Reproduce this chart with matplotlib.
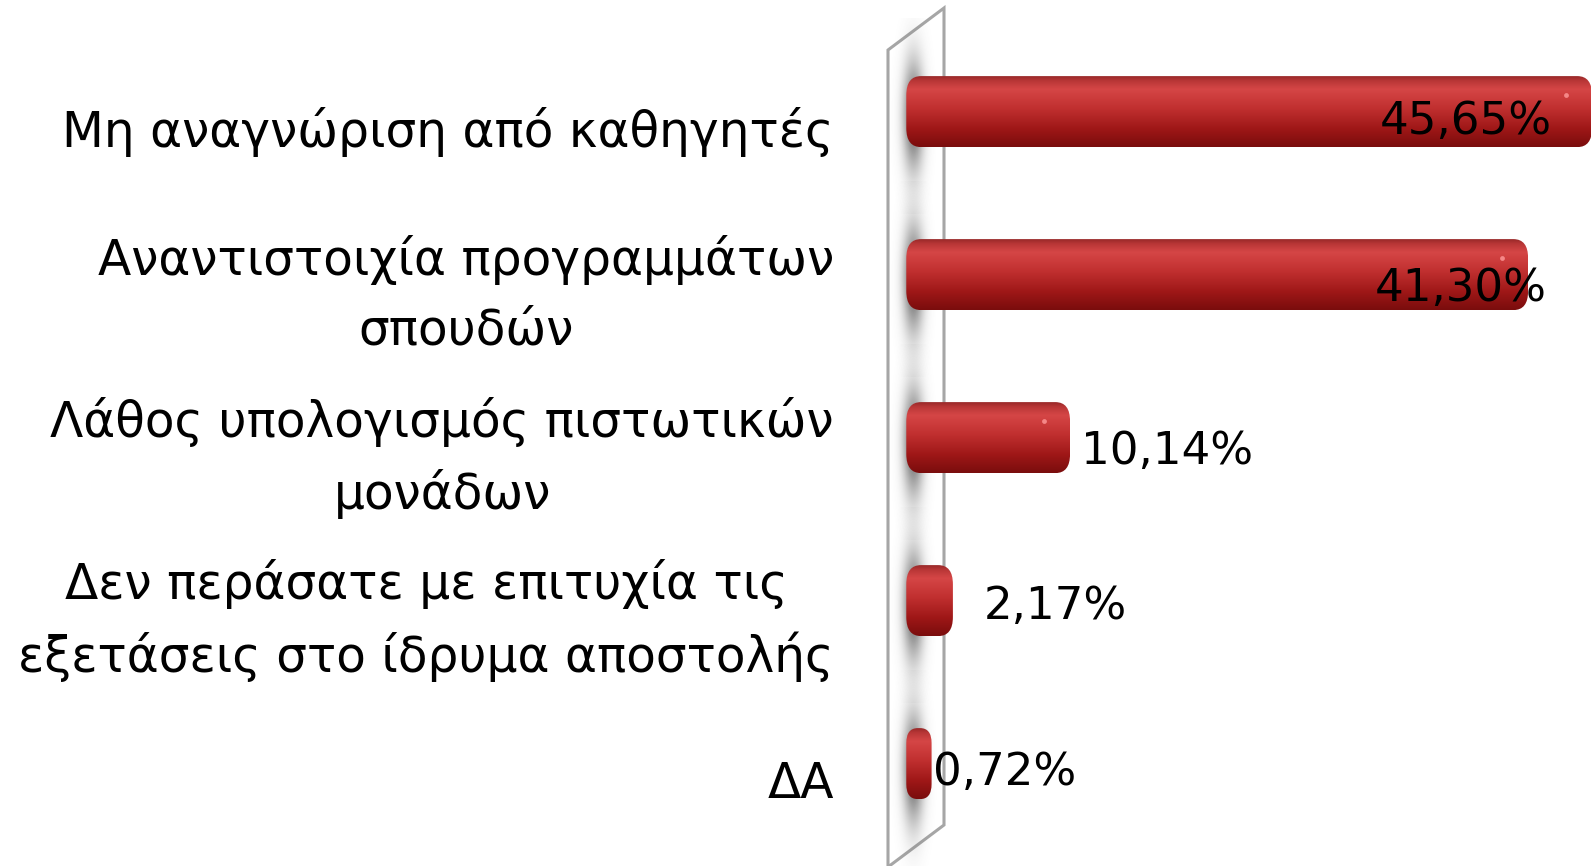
import numpy as np
import matplotlib.pyplot as plt
from matplotlib.patches import FancyBboxPatch, Polygon
from matplotlib.colors import LinearSegmentedColormap

# data
categories = ['Μη αναγνώριση από καθηγητές',
              'Αναντιστοιχία προγραμμάτων\nσπουδών',
              'Λάθος υπολογισμός πιστωτικών\nμονάδων',
              'Δεν περάσατε με επιτυχία τις\nεξετάσεις στο ίδρυμα αποστολής',
              'ΔΑ']
values = [45.65, 41.30, 10.14, 2.17, 0.72]
value_labels = ['45,65%', '41,30%', '10,14%', '2,17%', '0,72%']

# label placement (pixels, relative to bar end)
label_ha = ['right', 'right', 'left', 'left', 'left']
label_dx = [-40, 19, 11, 31, 1]
label_dy = [-10, -14, -14, -6, -9]

W, H = 1591, 866
px_per_x = 14.7      # pixels per percent
px_per_y = 163.0     # pixels per category
x0_px = 921          # pixel of x = 0
y0_px = 111.6        # pixel of first category centre
ax_left_px = 880

fig = plt.figure(figsize=(W / 100, H / 100), dpi=100)
ax = fig.add_axes([ax_left_px / W, 0, 1 - ax_left_px / W, 1])
xlim = ((ax_left_px - x0_px) / px_per_x, (W - x0_px) / px_per_x)
ylim = ((H - y0_px) / px_per_y, -y0_px / px_per_y)
ax.axis('off')

bar_h = 71 / px_per_y
cap = 1.0  # rounded cap length in x units
aspect = px_per_x / px_per_y

cmap = LinearSegmentedColormap.from_list('bar', [
    (0.0, '#9a2a2a'), (0.06, '#b83636'), (0.18, '#d54646'),
    (0.45, '#c13030'), (0.75, '#9e1717'), (1.0, '#7a0d0d')])
grad = cmap(np.linspace(0, 1, 100))[:, None, :]

# soft shadow blob on the wall
sx = np.linspace(-1.8, 1.8, 90)
sy = np.linspace(-0.6, 0.6, 90)
dx, dy = np.meshgrid(sx, sy)
blob = np.zeros((90, 90, 4))
blob[..., :3] = 0.33
blob[..., 3] = 0.9 * np.exp(-((dx / 0.7) ** 2 + (dy / 0.33) ** 2))

# back wall (parallelogram)
wall_l, wall_r = (888 - x0_px) / px_per_x, (944 - x0_px) / px_per_x
skew = 42 / px_per_y
wall = Polygon([(wall_l, (50 - y0_px) / px_per_y), (wall_r, (50 - y0_px) / px_per_y - skew),
                (wall_r, (825 - y0_px) / px_per_y), (wall_l, (825 - y0_px) / px_per_y + skew)],
               closed=True, facecolor='white', edgecolor='#a6a6a6', lw=2.2, zorder=1, clip_on=False)
ax.add_patch(wall)

for i, v in enumerate(values):
    top, bot = i - bar_h / 2, i + bar_h / 2
    ax.imshow(blob, extent=(-0.5 - 1.8, -0.5 + 1.8, i + 0.03 + 0.6, i + 0.03 - 0.6),
              aspect='auto', zorder=2, interpolation='bilinear')
    p = FancyBboxPatch((-cap, top), v + cap, bar_h,
                       boxstyle='round,pad=0,rounding_size=%f' % min(cap, (v + cap) / 2.2),
                       mutation_aspect=aspect * 1.3, facecolor='none', edgecolor='none', zorder=3)
    ax.add_patch(p)
    im = ax.imshow(grad, extent=(-cap, v, bot, top), aspect='auto', zorder=3,
                   interpolation='bilinear')
    im.set_clip_path(p)
    if v > 5:
        ax.scatter([v - 1.8], [i - 0.1], s=12, color='#ff9a9a', alpha=0.8, zorder=4, lw=0)

    ax.annotate(value_labels[i], xy=(v, i), xytext=(label_dx[i] * 0.72, label_dy[i] * 0.72),
                textcoords='offset points', ha=label_ha[i], va='center',
                fontsize=32.5, color='black', zorder=5, annotation_clip=False)

    ax.annotate(categories[i], xy=(0, i), xycoords=ax.get_yaxis_transform(),
                xytext=(-46 * 0.72, -20 * 0.72), textcoords='offset points',
                ha='right', va='center', multialignment='center',
                fontsize=35, color='black', linespacing=1.55, annotation_clip=False)

ax.set_xlim(*xlim)
ax.set_ylim(*ylim)
fig.savefig('out.png', dpi=100)
